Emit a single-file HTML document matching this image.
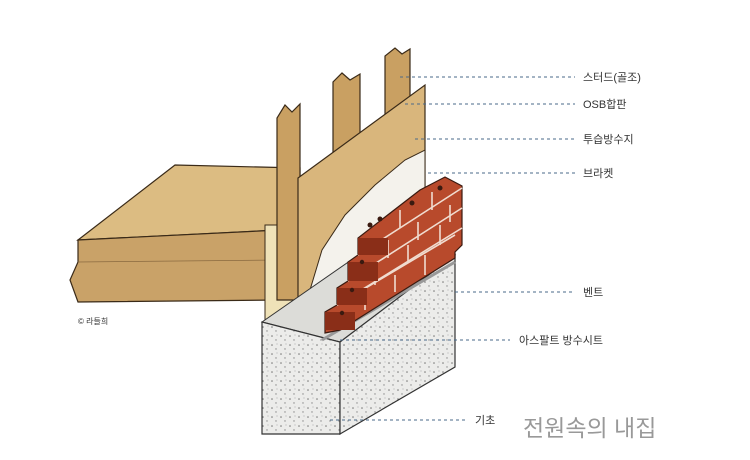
<!DOCTYPE html>
<html><head><meta charset="utf-8"><style>
body{margin:0;width:750px;height:460px;background:#fff;overflow:hidden}
svg{display:block}
text{font-family:"Liberation Sans","Noto Sans CJK KR",sans-serif;fill:#333}
</style></head><body>
<svg width="750" height="460" viewBox="0 0 750 460">
<defs>
<pattern id="dots" width="9" height="9" patternUnits="userSpaceOnUse">
<rect width="9" height="9" fill="#ececea"/>
<circle cx="2" cy="3" r="0.8" fill="#777"/><circle cx="6" cy="7" r="0.7" fill="#888"/><circle cx="7" cy="2" r="0.5" fill="#999"/>
</pattern>
</defs>
<!-- floor slab -->
<polygon points="78,240 175,165 300,168 300,230 280,230" fill="#dcbc82" stroke="#3a2a18" stroke-width="1.2"/>
<polygon points="78,240 280,230 282,300 78,302 70,280 78,262" fill="#c9a268" stroke="#3a2a18" stroke-width="1.2"/>
<line x1="78" y1="262" x2="280" y2="260" stroke="#8a6a40" stroke-width="0.8"/>
<rect x="265" y="225" width="33" height="100" fill="#efe2b8" stroke="#3a2a18"/>
<!-- studs -->
<polygon points="277,300 277,118 285,105 292,112 300,104 300,300" fill="#c9a062" stroke="#3a2a18" stroke-width="1.2"/>
<polygon points="333,290 333,82 342,73 350,80 360,74 360,290" fill="#c9a062" stroke="#3a2a18" stroke-width="1.2"/>
<polygon points="385,260 385,56 395,48 402,54 410,49 410,260" fill="#c9a062" stroke="#3a2a18" stroke-width="1.2"/>
<!-- OSB -->
<polygon points="298,178 425,85 425,250 298,335" fill="#d9b67c" stroke="#3a2a18" stroke-width="1.2"/>
<!-- membrane -->
<polygon points="308,338 310,290 322,250 345,215 375,185 405,160 425,150 425,250 340,342" fill="#f4f2ec" stroke="#3a2a18" stroke-width="1"/>
<!-- foundation -->
<polygon points="262,322 340,342 455,255 380,240" fill="#dcdcd8" stroke="#333" stroke-width="1"/>
<polygon points="262,322 340,342 340,434 262,434" fill="url(#dots)" stroke="#333" stroke-width="1.2"/>
<polygon points="340,342 455,255 455,367 340,434" fill="url(#dots)" stroke="#333" stroke-width="1.2"/>
<line x1="322" y1="340" x2="455" y2="262" stroke="#999" stroke-width="3"/>
<!-- bricks -->
<polygon points="325,333 325,312 337,305 337,288 348,281 348,262 358,255 358,238 420,190 445,177 462,186 462,245 455,252 455,258 340,330" fill="#b84a2c" stroke="#3a1a10" stroke-width="1.2"/>
<g stroke="#f0dcd0" stroke-width="1.6" fill="none">
<path d="M337,305 L462,228 M348,281 L462,208 M358,255 L462,188"/>
<path d="M337,305 L455,235"/>
<path d="M365,292 L365,310 M395,275 L395,292 M425,255 L425,275 M375,265 L375,285 M408,245 L408,262 M440,225 L440,245 M388,240 L388,258 M418,222 L418,240 M450,205 L450,222 M400,210 L400,228 M432,192 L432,210"/>
</g>
<g fill="#8a2e18"><rect x="325" y="312" width="30" height="18"/><rect x="337" y="288" width="30" height="17"/><rect x="348" y="262" width="30" height="19"/><rect x="358" y="238" width="30" height="17"/></g>
<g fill="#3a1a10"><circle cx="370" cy="225" r="2.5"/><circle cx="380" cy="219" r="2.5"/><circle cx="412" cy="203" r="2.5"/><circle cx="440" cy="188" r="2.5"/><circle cx="362" cy="262" r="2.2"/><circle cx="352" cy="290" r="2.2"/><circle cx="342" cy="313" r="2.2"/></g>
<!-- dashed leaders -->
<g stroke="#4a6a8a" stroke-width="1" stroke-dasharray="3,3">
<line x1="400" y1="77" x2="575" y2="77"/>
<line x1="405" y1="104" x2="575" y2="104"/>
<line x1="415" y1="139" x2="575" y2="139"/>
<line x1="428" y1="173" x2="575" y2="173"/>
<line x1="455" y1="292" x2="575" y2="292"/>
<line x1="340" y1="340" x2="510" y2="340"/>
<line x1="330" y1="420" x2="465" y2="420"/>
</g>
<g font-size="11">
<text x="583" y="81">스터드(골조)</text>
<text x="583" y="108">OSB합판</text>
<text x="583" y="143">투습방수지</text>
<text x="583" y="177">브라켓</text>
<text x="583" y="296">벤트</text>
<text x="519" y="344">아스팔트 방수시트</text>
<text x="475" y="424">기초</text>
</g>
<text x="78" y="324" font-size="8">© 라들희</text>
<text x="523" y="436" font-size="23" style="fill:#999">전원속의 내집</text>
</svg>
</body></html>
